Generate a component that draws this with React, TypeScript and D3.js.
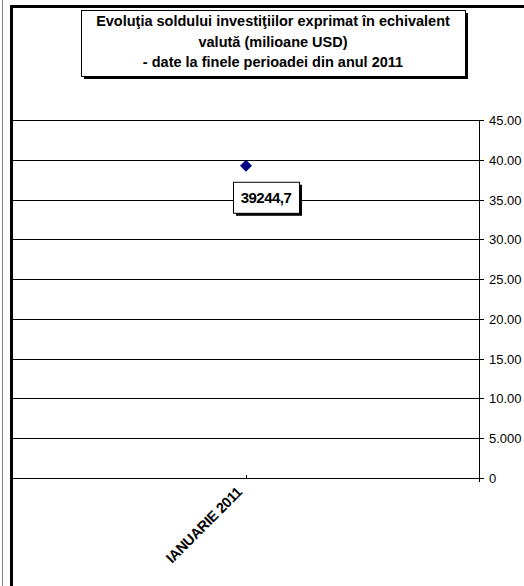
import React from "react";
import * as d3 from "d3";

const categories = ["IANUARIE 2011"];
const values = [39244.7];
const valueLabels = ["39244,7"];
const yTicks = [0, 5000, 10000, 15000, 20000, 25000, 30000, 35000, 40000, 45000];
const yTickLabels = ["0", "5.000", "10.00", "15.00", "20.00", "25.00", "30.00", "35.00", "40.00", "45.00"];
const titleLines = [
  "Evoluţia soldului investiţiilor exprimat în echivalent",
  "valută (milioane USD)",
  "- date la finele perioadei din anul 2011",
];

export default function App() {
  const W = 524, H = 586;
  const plotLeft = 13, plotRight = 479, plotTop = 120, plotBottom = 478;
  const y = d3.scaleLinear().domain([0, 45000]).range([plotBottom, plotTop]);
  const x = d3.scalePoint().domain(categories).range([plotLeft, plotRight]).padding(0.5);
  const font = "Liberation Sans, Arial, sans-serif";
  const m = 6;
  return (
    <svg width={W} height={H} style={{ position: "absolute", left: 0, top: 0, background: "#fff" }} fontFamily={font}>
      <rect x={0} y={0} width={W} height={H} fill="#fff" />
      <line x1={2.5} y1={0} x2={2.5} y2={H} stroke="#808080" strokeWidth={1} />
      <line x1={11.5} y1={5} x2={11.5} y2={H} stroke="#000" strokeWidth={3} />
      <line x1={10} y1={6.5} x2={W} y2={6.5} stroke="#000" strokeWidth={3} />
      {yTicks.map((t, i) => (
        <g key={t}>
          <line x1={plotLeft} x2={plotRight + 5} y1={Math.round(y(t)) + 0.5} y2={Math.round(y(t)) + 0.5} stroke="#000" strokeWidth={1} />
          <text x={489} y={Math.round(y(t)) + 5} fontSize={13} fill="#000">{yTickLabels[i]}</text>
        </g>
      ))}
      <line x1={plotRight + 0.5} x2={plotRight + 0.5} y1={plotTop} y2={plotBottom + 4} stroke="#000" />
      {categories.map((c) => (
        <g key={c}>
          <line x1={Math.round(x(c)!) + 0.5} x2={Math.round(x(c)!) + 0.5} y1={plotBottom - 3} y2={plotBottom} stroke="#000" />
          <text
            transform={`translate(${x(c)! - 3},${plotBottom + 15}) rotate(-45)`}
            textAnchor="end"
            fontSize={14.5}
            fontWeight="bold"
            letterSpacing={-0.4}
            fill="#000"
          >{c}</text>
        </g>
      ))}
      {values.map((v, i) => {
        const cx = x(categories[i])!;
        const cy = y(v);
        const bx = cx - 13, by = cy + 16, bw = 66, bh = 31;
        return (
          <g key={i}>
            <path d={`M${cx},${cy - m} L${cx + m},${cy} L${cx},${cy + m} L${cx - m},${cy} Z`} fill="#000080" />
            <rect x={bx + 3} y={by + 3} width={bw} height={bh} fill="#000" />
            <rect x={bx + 0.5} y={by + 0.5} width={bw} height={bh} fill="#fff" stroke="#000" strokeWidth={1} />
            <text x={bx + bw / 2} y={by + bh / 2 + 5.5} textAnchor="middle" fontSize={15} fontWeight="bold" letterSpacing={-0.5} fill="#000">{valueLabels[i]}</text>
          </g>
        );
      })}
      <g>
        <rect x={84} y={13} width={384} height={66} fill="#000" />
        <rect x={81.5} y={10.5} width={384} height={66} fill="#fff" stroke="#000" strokeWidth={1} />
        {titleLines.map((l, i) => (
          <text key={i} x={273} y={26 + i * 20.5} textAnchor="middle" fontSize={14.5} fontWeight="bold" fill="#000">{l}</text>
        ))}
      </g>
    </svg>
  );
}
